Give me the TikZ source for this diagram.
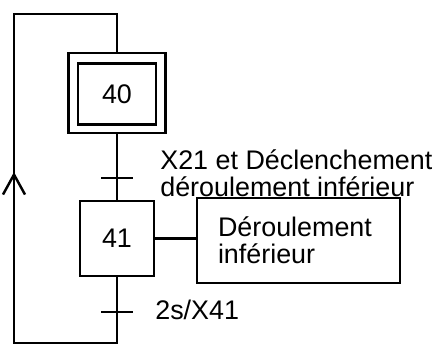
\documentclass[tikz,border=0pt]{standalone}
\usepackage{fontspec}
\setmainfont{Liberation Sans}
\usepackage{tikz}
\usetikzlibrary{arrows.meta, positioning, calc}
\tikzset{
  stepbox/.style={
    draw, line width=1.4pt, minimum width=1.48cm, minimum height=1.5cm,
    inner sep=0pt, font=\fontsize{15.3}{15.4}\selectfont
  },
  initbox/.style={
    draw, line width=1.4pt, minimum width=1.94cm, minimum height=1.6cm,
    inner sep=0pt
  },
  actionbox/.style={
    draw, line width=1.4pt, minimum height=1.7cm, text width=3.22cm,
    inner xsep=0.42cm, align=left, font=\fontsize{15.3}{15.4}\selectfont
  },
  grafline/.style={line width=1.4pt},
  trbar/.style={line width=1.4pt},
  looparrow/.style={
    line width=1.4pt, -{Straight Barb[length=4mm, width=4.4mm]}
  },
  trlabel/.style={
    inner sep=0pt, align=left, font=\fontsize{15.3}{15.4}\selectfont
  },
}

\begin{document}
\begin{tikzpicture}[x=0.02cm, y=-0.02cm]
  \useasboundingbox (0,0) rectangle (438,349);

  % --- Steps ---
  \node[initbox] (s40) at (117,93) {};
  \node[stepbox, minimum width=1.56cm, minimum height=1.22cm] (s40i)
    at (117,94) {40};
  \node[stepbox] (s41) at (117,238.5) {41};
  \node[actionbox] (a41) at (298.5,240.5) {Déroulement\\inférieur};

  % --- Transitions ---
  \coordinate (t1) at (117,178);
  \coordinate (t2) at (117,312);
  \draw[grafline] (s40.south) -- (s41.north);
  \draw[trbar] ([xshift=-0.32cm]t1) -- ([xshift=0.32cm]t1);
  \draw[trbar] ([xshift=-0.32cm]t2) -- ([xshift=0.32cm]t2);
  \node[trlabel, anchor=west] (c1) at (160,173)
    {X21 et Déclenchement\\déroulement inférieur};
  \node[trlabel, anchor=base west] (c2) at (155,319) {2s/X41};

  % Action link
  \draw[grafline] (s41.east) -- (s41.east -| a41.west);

  % --- Loop back ---
  \coordinate (lb) at (14,343);
  \coordinate (lt) at (14,14);
  \coordinate (lm) at (14,172);
  \draw[grafline] (s41.south) |- (lb) -- (lt) -| (s40.north);
  \draw[looparrow] (lb) -- (lm);
\end{tikzpicture}
\end{document}
